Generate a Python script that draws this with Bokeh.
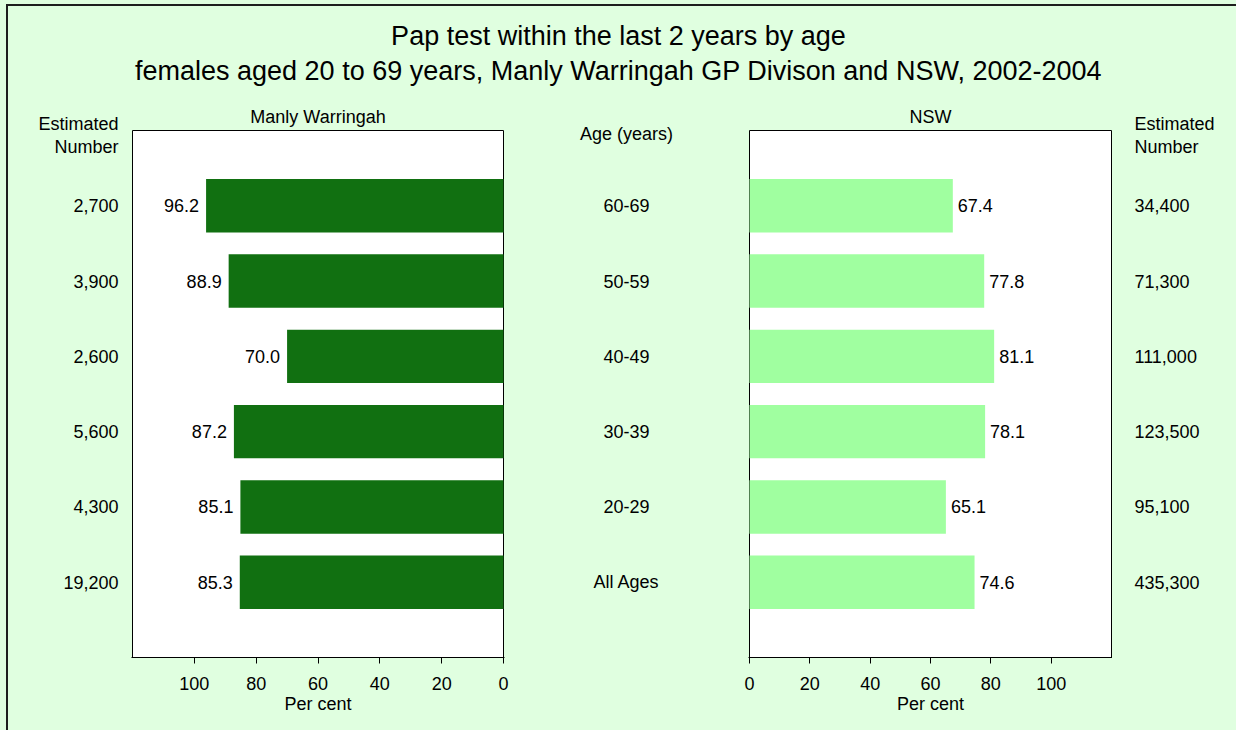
from bokeh.plotting import figure
from bokeh.layouts import row, column
from bokeh.models import Range1d, FixedTicker, ColumnDataSource, InlineStyleSheet, GlobalInlineStyleSheet
from bokeh.core.properties import value
from bokeh.embed import file_html
from bokeh.resources import INLINE

# ---- data ----
ages = ["60-69", "50-59", "40-49", "30-39", "20-29", "All Ages"]
manly_pct = [96.2, 88.9, 70.0, 87.2, 85.1, 85.3]
manly_num = [2700, 3900, 2600, 5600, 4300, 19200]
nsw_pct = [67.4, 77.8, 81.1, 78.1, 65.1, 74.6]
nsw_num = [34400, 71300, 111000, 123500, 95100, 435300]
ticks = [0, 20, 40, 60, 80, 100]
x_max = 120
title1 = "Pap test within the last 2 years by age"
title2 = "females aged 20 to 69 years, Manly Warringah GP Divison and NSW, 2002-2004"

# ---- styling ----
FONT_NAME = "Liberation Sans"
FONT = value(FONT_NAME)
BG = "#E0FFE0"
DARK = "#117011"
LIGHT = "#A0FFA0"
SMALL = "18px"

n = len(ages)
ypos = [n - i for i in range(n)]
slots = n + 1

W, H = 1236, 730
TITLE_H = 100
ROW_H = H - TITLE_H
PLOT_TOP = 130          # page y of the white plot area top
PLOT_BOTTOM = 657       # page y of the axis
BOTTOM = H - PLOT_BOTTOM
unit = (PLOT_BOTTOM - PLOT_TOP) / slots
Y_END = (PLOT_BOTTOM - TITLE_H) / unit


def yd(page_y):
    return (PLOT_BOTTOM - page_y) / unit


def base_fig(width, xr, **kw):
    f = figure(width=width, height=ROW_H, x_range=xr, y_range=Range1d(0, Y_END),
               toolbar_location=None, output_backend="svg", y_axis_location=None,
               min_border=0, min_border_top=0, min_border_bottom=BOTTOM,
               background_fill_color=BG, border_fill_color=BG, outline_line_color=None, **kw)
    f.grid.visible = False
    return f


def add_text(f, x, y, text, align, size=SMALL):
    src = ColumnDataSource(dict(x=x, y=y, t=text))
    f.text(x="x", y="y", text="t", source=src, text_align=align, text_baseline="middle",
           text_font=FONT, text_font_size=size, text_color="black")


def bar_fig(plot_w, reverse, title, mb_left, mb_right, values, color, label_side):
    scale = plot_w / x_max
    pad = 1 / scale
    xr = Range1d(x_max + pad, -pad) if reverse else Range1d(-pad, x_max + pad)
    p = base_fig(plot_w + 2 + mb_left + mb_right, xr)
    p.min_border_left = mb_left
    p.min_border_right = mb_right
    ax = p.xaxis[0]
    ax.ticker = FixedTicker(ticks=ticks)
    ax.axis_label = "Per cent"
    ax.axis_label_text_font = FONT_NAME
    ax.axis_label_text_font_size = SMALL
    ax.axis_label_text_font_style = "normal"
    ax.axis_label_text_color = "black"
    ax.axis_label_standoff = 1
    ax.major_label_text_font = FONT_NAME
    ax.major_label_text_font_size = SMALL
    ax.major_label_text_color = "black"
    ax.major_label_standoff = 13
    ax.major_tick_out = 6
    ax.major_tick_in = 0
    ax.minor_tick_line_color = None
    ax.axis_line_color = "black"
    ax.major_tick_line_color = "black"
    # white plot area with outline, spanning the axis range
    p.quad(left=[0], right=[x_max], bottom=[0], top=[slots],
           fill_color="white", line_color="black", line_width=1)
    src = ColumnDataSource(dict(y=ypos, v=values, lab=[f"{v:.1f}" for v in values]))
    p.hbar(y="y", left=0, right="v", height=0.71, source=src, fill_color=color, line_color=None)
    p.text(x="v", y="y", text="lab", source=src, text_align=label_side, text_baseline="middle",
           x_offset=(-7 if label_side == "right" else 5),
           text_font=FONT, text_font_size=SMALL, text_color="black")
    add_text(p, [x_max / 2], [yd(116)], [title], "center")
    return p


def text_fig(width):
    f = base_fig(width, Range1d(0, width), x_axis_location=None)
    return f


# ---- title ----
tf = figure(width=W, height=TITLE_H, x_range=Range1d(0, W), y_range=Range1d(TITLE_H, 0),
            toolbar_location=None, output_backend="svg",
            x_axis_location=None, y_axis_location=None, min_border=0,
            background_fill_color=BG, border_fill_color=BG, outline_line_color=None)
tf.grid.visible = False
add_text(tf, [W / 2, W / 2], [35, 70], [title1, title2], "center", "27px")

# ---- left number column ----
LW = 131
lc = text_fig(LW)
add_text(lc, [118] * n, ypos, [f"{v:,}" for v in manly_num], "right")
add_text(lc, [118, 118], [yd(123), yd(146)], ["Estimated", "Number"], "right")

# ---- left bars ----
lp = bar_fig(371, True, "Manly Warringah", 0, 9, manly_pct, DARK, "right")

# ---- middle age column ----
MW = 226
mc = text_fig(MW)
add_text(mc, [MW / 2] * n, ypos, ages, "center")
add_text(mc, [MW / 2], [yd(133)], ["Age (years)"], "center")

# ---- right bars ----
rp = bar_fig(362, False, "NSW", 9, 0, nsw_pct, LIGHT, "left")

# ---- right number column ----
RW = W - LW - lp.width - MW - rp.width
rc = text_fig(RW)
add_text(rc, [22] * n, ypos, [f"{v:,}" for v in nsw_num], "left")
add_text(rc, [22, 22], [yd(123), yd(146)], ["Estimated", "Number"], "left")

page_css = GlobalInlineStyleSheet(css="html, body { overflow: hidden; background: #E0FFE0; }")
frame_css = InlineStyleSheet(css=""":host::before { content: ''; position: absolute; left: 6px; top: 4px;
  width: 2px; height: 726px; background: #1e1e1e; pointer-events: none; z-index: 10; }
:host::after { content: ''; position: absolute; left: 6px; top: 4px;
  width: 1230px; height: 2px; background: #1e1e1e; pointer-events: none; z-index: 10; }""")

body_row = row(lc, lp, mc, rp, rc, styles={"background-color": BG})
layout = column(tf, body_row, stylesheets=[page_css, frame_css],
                styles={"background-color": BG, "position": "fixed", "top": "0px", "left": "0px"})
open("out.html", "w").write(file_html(layout, INLINE))
